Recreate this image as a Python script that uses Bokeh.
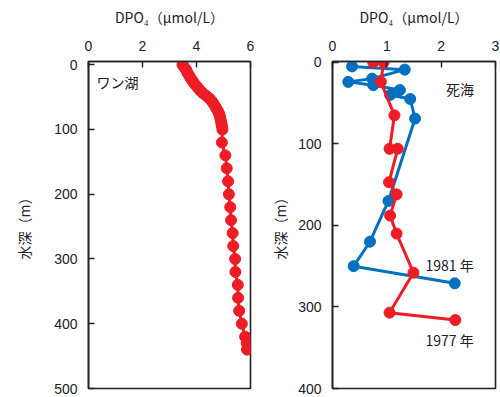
from bokeh.plotting import figure
from bokeh.layouts import row
from bokeh.models import Range1d, FixedTicker, Label
from bokeh.embed import file_html
from bokeh.resources import INLINE

# Lake Van: dissolved phosphate profile
van_depth = [0, 4, 8, 12, 16, 20, 24, 28, 32, 36, 40, 44, 48, 52, 56, 60, 64, 68,
             72, 76, 80, 84, 88, 92, 96, 100,
             120, 140, 160, 180, 200, 220, 240, 260, 280, 300, 320, 340, 360, 380,
             400, 420, 430, 440]
van_po4 = [3.48, 3.55, 3.62, 3.66, 3.72, 3.77, 3.84, 3.90, 3.98, 4.06, 4.14, 4.24,
           4.36, 4.48, 4.56, 4.63, 4.69, 4.74, 4.80, 4.84, 4.87, 4.89, 4.91, 4.93,
           4.95, 4.96,
           4.94, 5.07, 5.12, 5.17, 5.20, 5.25, 5.28, 5.34, 5.36, 5.43, 5.44, 5.53,
           5.54, 5.58, 5.68, 5.80, 5.86, 5.87]

# Dead Sea, 1977 survey
ds77_depth = [0, 0, 24, 65, 106, 106, 147, 162, 188, 210, 258, 307, 316]
ds77_po4 = [0.75, 0.94, 0.89, 1.14, 1.05, 1.20, 1.04, 1.18, 1.06, 1.18, 1.49, 1.05, 2.26]

# Dead Sea, 1981 survey
ds81_depth = [5, 9, 20, 24, 28, 34, 40, 45, 69, 170, 220, 250, 271]
ds81_po4 = [0.36, 1.33, 0.73, 0.29, 0.75, 1.24, 1.06, 1.43, 1.52, 1.03, 0.69, 0.39, 2.25]

van_ticks_x = [0, 2, 4, 6]
van_ticks_y = [0, 100, 200, 300, 400, 500]
ds_ticks_x = [0, 1, 2, 3]
ds_ticks_y = [0, 100, 200, 300, 400]

RED = "#EE1C25"
BLUE = "#0070BF"
FONT = "Noto Sans CJK JP"
NUM_FONT = "Liberation Sans"


def make_panel(width, border_left, border_right, xr, yr, xt, yt, ylab_standoff):
    p = figure(width=width, height=397,
               x_range=Range1d(*xr), y_range=Range1d(*yr),
               x_axis_location="above", y_axis_location="left",
               output_backend="svg", toolbar_location=None,
               min_border_left=border_left, min_border_right=border_right,
               min_border_top=61, min_border_bottom=9)
    p.grid.visible = False
    p.outline_line_color = "#222222"
    p.outline_line_width = 1.6
    p.outline_line_alpha = 1.0
    p.background_fill_color = "white"
    p.border_fill_color = "white"

    for ax, ticks in ((p.xaxis[0], xt), (p.yaxis[0], yt)):
        ax.ticker = FixedTicker(ticks=ticks)
        ax.minor_tick_line_color = None
        ax.major_tick_in = 6
        ax.major_tick_out = 0
        ax.major_tick_line_color = "#222222"
        ax.major_tick_line_width = 1.4
        ax.axis_line_color = "#222222"
        ax.axis_line_width = 1.6
        ax.major_label_text_font = NUM_FONT
        ax.major_label_text_font_size = "14px"
        ax.major_label_text_color = "#222222"
        ax.major_label_standoff = 11
        ax.axis_label_text_font = FONT
        ax.axis_label_text_font_size = "14px"
        ax.axis_label_text_font_style = "normal"
        ax.axis_label_text_color = "#222222"

    p.xaxis.axis_label = "DPO₄（μmol/L）"
    p.xaxis.axis_label_standoff = 11
    p.yaxis.axis_label = "水深（m）"
    p.yaxis.axis_label_standoff = ylab_standoff
    return p


def note(p, x, y, text):
    p.add_layout(Label(x=x, y=y, text=text, text_font=FONT,
                       text_font_size="14px", text_color="#222222",
                       text_baseline="middle"))


left = make_panel(255, 88, 5, (0, 6), (500, -5), van_ticks_x, van_ticks_y, 17)
left.line(van_po4, van_depth, line_color=RED, line_width=3)
left.scatter(van_po4, van_depth, size=11, fill_color=RED, line_color=RED)
note(left, 0.3, 27, "ワン湖")

right = make_panel(245, 77, 5, (0, 3), (400, -1), ds_ticks_x, ds_ticks_y, 5)
right.line(ds81_po4, ds81_depth, line_color=BLUE, line_width=3)
right.scatter(ds81_po4, ds81_depth, size=11, fill_color=BLUE, line_color=BLUE)
right.line(ds77_po4, ds77_depth, line_color=RED, line_width=3)
right.scatter(ds77_po4, ds77_depth, size=11, fill_color=RED, line_color=RED)
note(right, 2.09, 33, "死海")
note(right, 1.71, 248, "1981 年")
note(right, 1.71, 341, "1977 年")

layout = row(left, right)
open("out.html", "w").write(file_html(layout, INLINE))
